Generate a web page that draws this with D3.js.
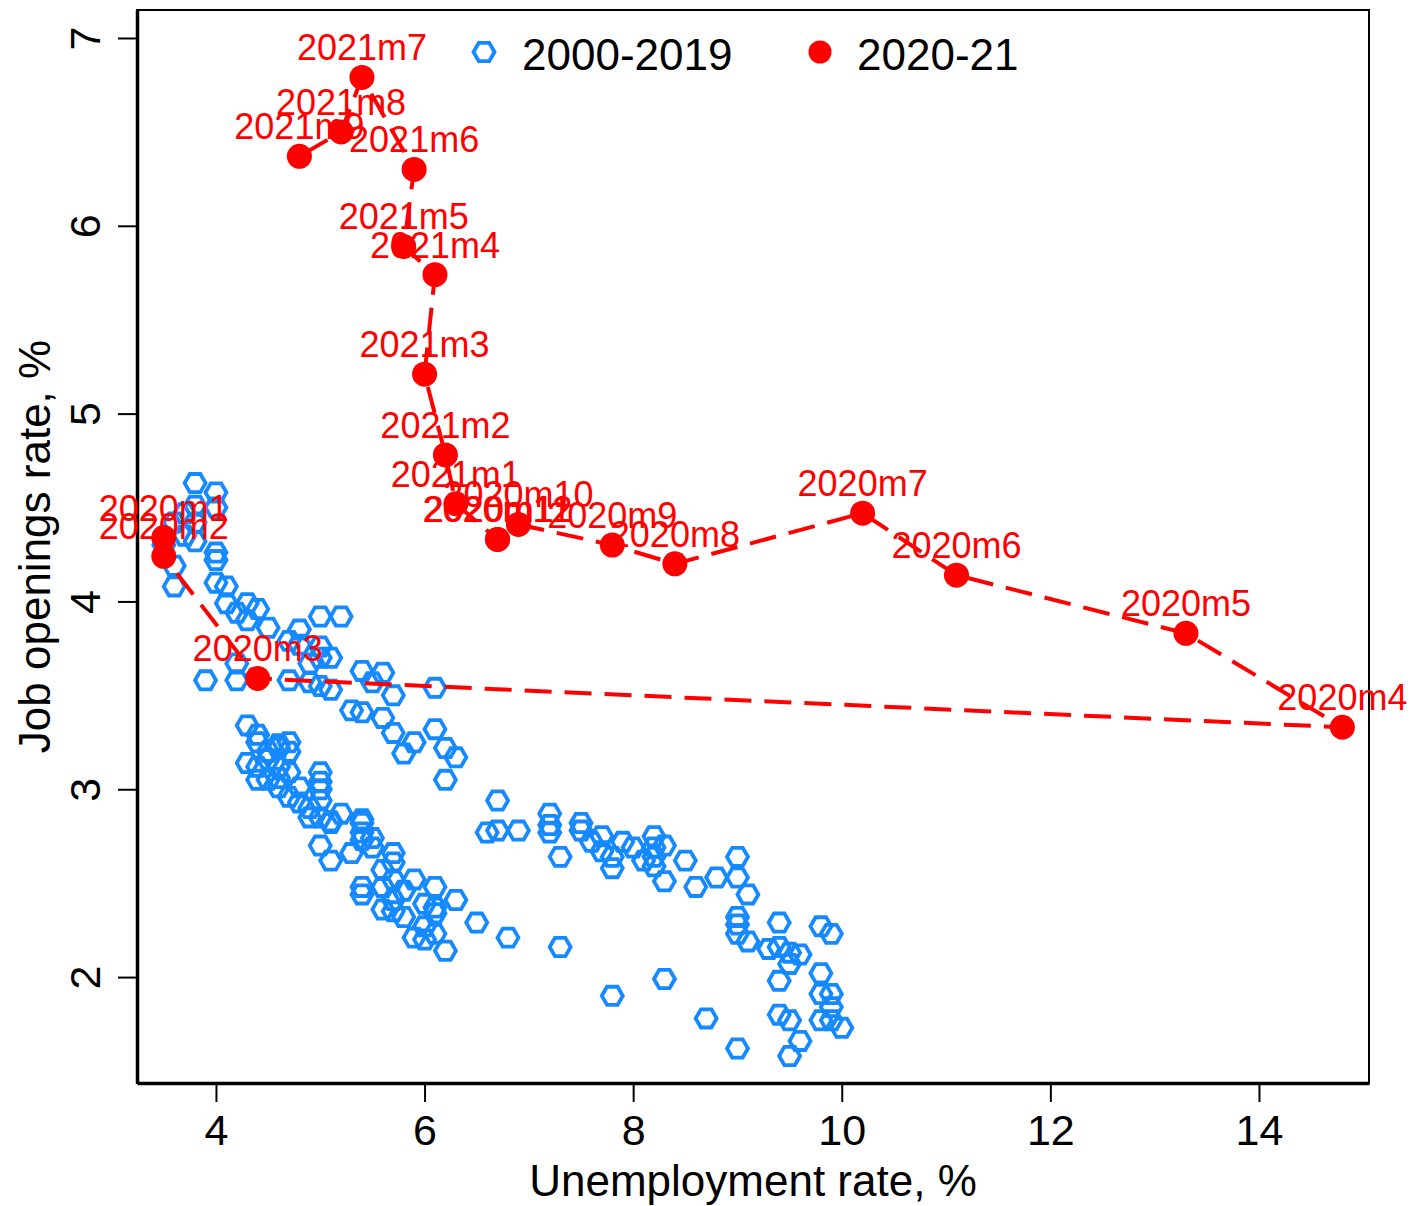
<!DOCTYPE html>
<html>
<head>
<meta charset="utf-8">
<script src="https://cdn.jsdelivr.net/npm/d3@7"></script>
<style>
  body { margin: 0; background: #fff; }
  text { font-family: "Liberation Sans", Arial, sans-serif; }
</style>
</head>
<body>
<svg width="1412" height="1206"></svg>
<script>
// 2000-2019: [unemployment rate, job openings rate]
const hist = [
  [3.8,4.63],[4.0,4.58],[4.0,4.50],[3.8,4.51],[3.7,4.47],[3.6,4.42],[3.8,4.42],[3.8,4.32],
  [3.7,4.35],[4.0,4.26],[4.0,4.22],[3.6,4.19],[3.6,4.08],[3.5,4.30],
  [4.0,4.10],[4.1,4.08],[4.1,3.99],[4.2,3.94],[4.3,3.99],[4.4,3.96],[4.3,3.90],[4.5,3.86],
  [4.8,3.85],[4.7,3.79],[4.8,3.77],[5.0,3.92],[5.2,3.92],[5.0,3.76],[5.1,3.70],[5.0,3.70],
  [4.9,3.67],[4.2,3.67],[4.2,3.58],[3.9,3.58],[4.7,3.58],[4.9,3.57],[5.0,3.55],[5.1,3.53],
  [5.4,3.63],[5.6,3.62],[5.5,3.57],[5.7,3.50],[6.1,3.54],[5.3,3.42],[5.4,3.41],[5.6,3.38],
  [5.7,3.30],[5.8,3.19],[5.9,3.25],[6.1,3.32],[6.2,3.22],[6.3,3.17],[6.2,3.05],
  [4.3,3.34],[4.4,3.29],[4.4,3.25],[4.6,3.24],[4.7,3.25],[4.7,3.20],[4.3,3.14],[4.4,3.12],
  [4.5,3.16],[4.6,3.12],[4.7,3.09],[4.4,3.05],[4.6,3.01],[5.0,3.09],[5.0,3.04],[5.0,3.00],
  [4.8,2.93],[4.9,2.90],[5.0,2.94],[4.9,2.85],[5.0,2.85],[5.1,2.82],[5.2,2.87],[5.0,2.70],
  [5.1,2.62],[5.3,2.66],[5.4,2.84],[5.4,2.77],[5.5,2.74],[5.5,2.69],[5.4,2.73],[5.7,2.66],
  [5.7,2.61],[5.6,2.57],[5.4,2.48],[5.4,2.44],[5.6,2.48],[5.7,2.52],[5.8,2.46],[5.9,2.52],
  [5.7,2.41],[5.6,2.36],[5.7,2.35],[5.8,2.32],[6.1,2.48],[6.3,2.41],[6.0,2.39],[6.1,2.34],
  [6.0,2.27],[5.9,2.21],[6.1,2.23],[6.0,2.20],[6.2,2.14],[6.5,2.29],[6.1,2.37],[4.6,3.22],
  [4.5,3.05],[4.7,2.96],[4.8,3.01],[5.1,2.83],[5.4,2.82],[4.5,3.20],[4.6,3.06],
  [6.7,2.94],[6.6,2.77],[6.7,2.78],[6.9,2.78],[7.2,2.87],[7.2,2.81],[7.2,2.77],[7.3,2.64],
  [7.5,2.82],[7.5,2.78],[7.6,2.72],[7.7,2.75],[7.7,2.67],[7.8,2.64],[7.8,2.58],[7.9,2.72],
  [8.0,2.69],[8.1,2.62],[8.2,2.75],[8.2,2.69],[8.2,2.64],[8.2,2.59],[8.3,2.70],[8.3,2.51],
  [8.5,2.62],[8.6,2.48],[8.8,2.53],
  [9.0,2.64],[9.0,2.53],[9.1,2.44],[9.0,2.32],[9.0,2.28],[9.0,2.23],[9.1,2.19],[9.4,2.29],
  [9.3,2.15],[9.4,2.16],[9.5,2.13],[9.6,2.12],[9.5,2.07],[9.4,1.98],[9.8,2.27],[9.9,2.23],
  [9.8,2.02],[9.8,1.91],[9.9,1.91],[9.9,1.84],[9.8,1.77],[9.9,1.77],[10.0,1.73],[9.4,1.80],
  [9.5,1.77],[9.6,1.66],[9.5,1.58],[9.0,1.62],[8.7,1.78],[8.3,1.99],[7.8,1.90],[7.3,2.16],
  [6.8,2.21]
];

// 2020-21 monthly path
const months = ["2020m1","2020m2","2020m3","2020m4","2020m5","2020m6","2020m7","2020m8",
  "2020m9","2020m10","2020m11","2020m12","2021m1","2021m2","2021m3","2021m4","2021m5",
  "2021m6","2021m7","2021m8","2021m9"];
const unemp = [3.5,3.5,4.4,14.8,13.3,11.1,10.2,8.4,7.8,6.9,6.7,6.7,6.3,6.2,6.0,6.1,5.8,5.9,5.4,5.2,4.8];
const openings = [4.34,4.24,3.59,3.33,3.83,4.14,4.47,4.20,4.30,4.41,4.33,4.33,4.52,4.78,5.21,5.74,5.89,6.30,6.79,6.50,6.37];

const xTicks = [4, 6, 8, 10, 12, 14];
const yTicks = [2, 3, 4, 5, 6, 7];
const legendItems = ["2000-2019", "2020-21"];

const blue = "#1589ff", red = "#ff0000";
const pLeft = 137, pRight = 1369, pTop = 10, pBottom = 1083;

const svg = d3.select("svg");

const x = d3.scaleLinear().domain([3.243, 15.055]).range([pLeft, pRight]);
const y = d3.scaleLinear().domain([1.436, 7.149]).range([pBottom, pTop]);

// plot region outline
svg.append("rect")
  .attr("x", pLeft).attr("y", pTop)
  .attr("width", pRight - pLeft).attr("height", pBottom - pTop)
  .attr("fill", "none").attr("stroke", "#000").attr("stroke-width", 2);

// axes
const xAxis = svg.append("g")
  .attr("transform", "translate(0," + pBottom + ")")
  .call(d3.axisBottom(x).tickValues(xTicks).tickFormat(d3.format("d"))
    .tickSize(19).tickSizeOuter(0).tickPadding(12));
xAxis.select(".domain").attr("stroke-width", 3.5);
xAxis.selectAll(".tick line").attr("stroke-width", 2);
xAxis.selectAll("text").attr("font-size", 43).attr("fill", "#000");

const yAxis = svg.append("g")
  .attr("transform", "translate(" + pLeft + ",0)")
  .call(d3.axisLeft(y).tickValues(yTicks).tickFormat(d3.format("d"))
    .tickSize(19).tickSizeOuter(0));
yAxis.select(".domain").attr("stroke-width", 3.5);
yAxis.selectAll(".tick line").attr("stroke-width", 2);
yAxis.selectAll("text")
  .attr("font-size", 43).attr("fill", "#000")
  .attr("x", null).attr("dy", null)
  .attr("text-anchor", "middle")
  .attr("transform", "translate(-37,0) rotate(-90)");

// axis titles
svg.append("text")
  .attr("x", (pLeft + pRight) / 2).attr("y", 1196)
  .attr("text-anchor", "middle").attr("font-size", 44)
  .text("Unemployment rate, %");
svg.append("text")
  .attr("transform", "translate(50," + (pTop + pBottom) / 2 + ") rotate(-90)")
  .attr("text-anchor", "middle").attr("font-size", 44)
  .text("Job openings rate, %");

// hexagon marker
const hexR = 10.5;
const hexPath = d3.line()(d3.range(6).map(i => [hexR * Math.cos(i * Math.PI / 3), hexR * Math.sin(i * Math.PI / 3)])) + "Z";

svg.append("g")
  .selectAll("path")
  .data(hist)
  .enter()
  .append("path")
  .attr("d", hexPath)
  .attr("transform", d => "translate(" + x(d[0]) + "," + y(d[1]) + ")")
  .attr("fill", "none")
  .attr("stroke", blue)
  .attr("stroke-width", 3.8);

// 2020-21 path
const path2020 = months.map((m, i) => ({ label: m, u: unemp[i], j: openings[i] }));

svg.append("path")
  .datum(path2020)
  .attr("d", d3.line().x(d => x(d.u)).y(d => y(d.j)))
  .attr("fill", "none")
  .attr("stroke", red)
  .attr("stroke-width", 4)
  .attr("stroke-dasharray", "27 13");

const pts = svg.append("g")
  .selectAll("g")
  .data(path2020)
  .enter()
  .append("g");
pts.append("circle")
  .attr("cx", d => x(d.u)).attr("cy", d => y(d.j))
  .attr("r", 12.5).attr("fill", red);
pts.append("text")
  .attr("x", d => x(d.u)).attr("y", d => y(d.j) - 17)
  .attr("text-anchor", "middle")
  .attr("font-size", 36)
  .attr("fill", red)
  .text(d => d.label);

// legend
const lg = svg.append("g");
lg.append("path")
  .attr("d", hexPath)
  .attr("transform", "translate(484,52)")
  .attr("fill", "none").attr("stroke", blue).attr("stroke-width", 3.8);
lg.append("circle")
  .attr("cx", 820).attr("cy", 52).attr("r", 11.5).attr("fill", red);
lg.selectAll("text")
  .data(legendItems)
  .enter()
  .append("text")
  .attr("x", (d, i) => i === 0 ? 522 : 857)
  .attr("y", 70)
  .attr("font-size", 44)
  .text(d => d);
</script>
</body>
</html>
